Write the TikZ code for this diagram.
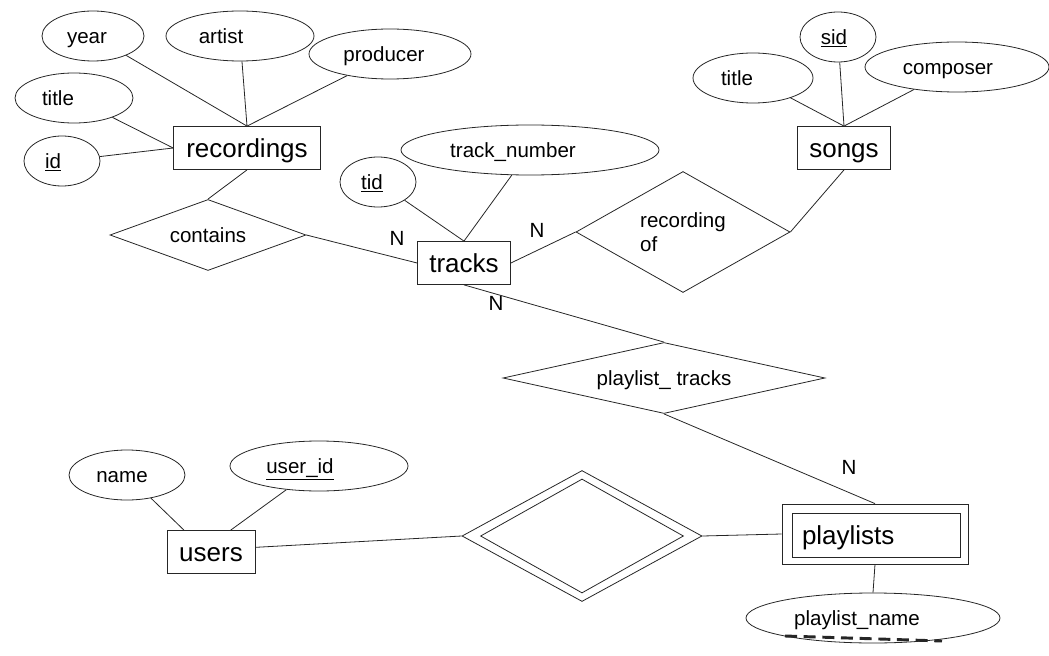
\documentclass[tikz,border=0pt]{standalone}
\usepackage{fontspec}
\setmainfont{Liberation Sans}
\usetikzlibrary{shapes.geometric}
\newcommand\pxu{0.75pt}
\newcommand\bigtxt{\fontsize{19.5}{22}\selectfont}
\newcommand\smalltxt{\fontsize{15.4}{18}\selectfont}
\tikzset{
  attr/.style={ellipse, draw, inner sep=0pt, minimum height=50*\pxu},
  entity/.style={rectangle, draw, font=\bigtxt, text height=14pt, inner sep=0pt, minimum height=43*\pxu},
  rel/.style={diamond, draw, inner sep=0pt},
  card/.style={inner sep=0pt}
}
\begin{document}
\begin{tikzpicture}[x=0.75pt, y=-0.75pt, font=\smalltxt, line width=0.6pt, draw=black!85,
  every node/.append style={text height=11pt, text depth=0pt}]
\useasboundingbox (0,0) rectangle (1049,656);
\node[entity, minimum width=147*\pxu] (recordings) at (247,148) {recordings};
\node[entity, minimum width=93*\pxu] (tracks) at (464,263) {tracks};
\node[entity, minimum width=93*\pxu] (songs) at (844,148) {songs};
\node[entity, minimum width=88*\pxu] (users) at (211,552) {users};
\node[rectangle, draw, minimum width=186*\pxu, minimum height=60*\pxu] (playlists) at (875,534) {};
\node[rectangle, draw, font=\bigtxt, text height=14pt, text width=148*\pxu, inner xsep=10*\pxu, inner ysep=0pt, minimum height=44*\pxu, align=left] (plinner) at (876,535) {playlists};
\node[rel, minimum width=196*\pxu, minimum height=71*\pxu, label=center:contains] (contains) at (208,235) {};
\node[rel, minimum width=214*\pxu, minimum height=121*\pxu, label={[text height=, text depth=, yshift=-3*\pxu]center:{\begin{tabular}{@{}l@{}}recording\\of\end{tabular}}}] (recof) at (683,232) {};
\node[rel, minimum width=322*\pxu, minimum height=71*\pxu, label=center:playlist\_ tracks] (pltracks) at (664,378) {};
\node[rel, minimum width=240*\pxu, minimum height=131*\pxu] (own) at (582,536) {};
\node[rel, minimum width=203*\pxu, minimum height=114*\pxu] (owninner) at (582,536) {};
\foreach \nm/\pos/\rx/\dx/\txt in {year/{93,36}/51/-6/year, artist/{240,36}/74/-19/artist, producer/{390,54}/81/-6/producer, rtitle/{74,98}/59/-16/title, rid/{62,161}/38/-9/\underline{id}, tid/{378,182}/38/-6/\underline{tid}, tnum/{530,150}/129/-17/track\_number, stitle/{753,78}/60/-16/title, sid/{838,37}/38/-4/\underline{sid}, composer/{957,67}/92/-9/composer, uname/{127,475}/58/-5/name, uid/{319,466}/89/-19/\underline{user\_id}, pname/{873,618}/127/-16/playlist\_name}
  \node[attr, minimum width=2*\rx*\pxu, label={[xshift=\dx*\pxu]center:\txt}] (\nm) at (\pos) {};
\foreach \a/\b in {year/recordings.north, artist/recordings.north, producer/recordings.north, rtitle/recordings.west, rid/recordings.west, tid/tracks.north, tnum/tracks.north, stitle/songs.north, sid/songs.north, composer/songs.north, uname/users.141, uid/users.48, playlists.south/pname.north}
  \draw (\a) -- (\b);
\draw (recordings.south) -- (contains.north);
\draw (contains.east) -- (tracks.west);
\draw (tracks.east) -- (recof.west);
\draw (recof.east) -- (songs.south);
\draw (tracks.south) -- (pltracks.north);
\draw (pltracks.south) -- (playlists.north);
\draw (users.6) -- (own.west);
\draw (own.east) -- (playlists.west);
\foreach \nm/\pos in {n1/{397,238}, n2/{537,230}, n3/{496,303}, n4/{849,467}}
  \node[card] (\nm) at (\pos) {N};
\draw[line width=2.2pt, dash pattern=on 9pt off 5pt] (785,636) -- (942,641);
\end{tikzpicture}
\end{document}
